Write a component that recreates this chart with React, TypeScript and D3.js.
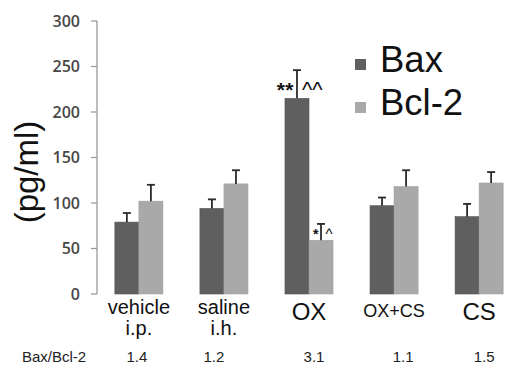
import React from 'react';
import * as d3 from 'd3';

// groups along the x axis
const groups = ['vehicle i.p.', 'saline i.h.', 'OX', 'OX+CS', 'CS'];
const groupLines = [['vehicle', 'i.p.'], ['saline', 'i.h.'], ['OX'], ['OX+CS'], ['CS']];
const groupFontSize = [20, 20, 24, 18, 24];
const series = ['Bax', 'Bcl-2'];
const colors = ['#5f5f5f', '#a9a9a9'];

// means and error-bar tops (pg/ml)
const baxValues = [79, 94, 215, 97, 85];
const baxErrTop = [89, 104, 246, 106, 99];
const bclValues = [102, 121, 59, 118, 122];
const bclErrTop = [120, 136, 77, 136, 134];

const yTicks = [0, 50, 100, 150, 200, 250, 300];
const ratios = ['1.4', '1.2', '3.1', '1.1', '1.5'];
const ratioShift = [-2, -10, 5, 9, 5];

export default function App() {
  const width = 507;
  const height = 378;

  const x = d3.scaleBand<string>()
    .domain(groups)
    .range([97, 521])
    .paddingInner(0.435)
    .paddingOuter(0.21);
  const xs = d3.scaleBand<string>().domain(series).range([0, x.bandwidth()]);
  const y = d3.scaleLinear().domain([0, 300]).range([294, 21]);

  const values = [baxValues, bclValues];
  const errs = [baxErrTop, bclErrTop];

  const font = '"Liberation Sans", Arial, sans-serif';

  return (
    <svg width={width} height={height} style={{ position: 'absolute', left: 0, top: 0, background: '#fff' }}>
      {/* y axis */}
      <line x1={97} x2={97} y1={y(300)} y2={y(0)} stroke="#9a9a9a" strokeWidth={1.3} />
      {yTicks.map(t => (
        <g key={t}>
          <line x1={91} x2={97} y1={y(t)} y2={y(t)} stroke="#9a9a9a" strokeWidth={1.3} />
          <text x={80} y={y(t)} dy="0.36em" textAnchor="end" fontFamily='"Open Sans", sans-serif'
            fontSize={16} fontWeight={600} fill="#474747">{t}</text>
        </g>
      ))}
      <text transform={`translate(38, 172) rotate(-90)`} textAnchor="middle" fontFamily={font}
        fontSize={33} fill="#111">(pg/ml)</text>

      {/* bars */}
      {series.map((s, si) => groups.map((g, gi) => {
        const bx = (x(g) as number) + (xs(s) as number);
        const bw = xs.bandwidth();
        const cx = bx + bw / 2;
        return (
          <g key={s + g}>
            <rect x={bx} y={y(values[si][gi])} width={bw} height={y(0) - y(values[si][gi])}
              fill={colors[si]} stroke={si === 0 ? '#555' : '#a0a0a0'} strokeWidth={0.6} />
            <line x1={cx} x2={cx} y1={y(values[si][gi])} y2={y(errs[si][gi])} stroke="#2a2a2a" strokeWidth={1.8} />
            <line x1={cx - 4} x2={cx + 4} y1={y(errs[si][gi])} y2={y(errs[si][gi])} stroke="#2a2a2a" strokeWidth={1.8} />
          </g>
        );
      }))}

      {/* significance marks */}
      {(() => {
        const ox = x('OX') as number;
        const baxC = ox + (xs('Bax') as number) + xs.bandwidth() / 2;
        const bclC = ox + (xs('Bcl-2') as number) + xs.bandwidth() / 2;
        return (
          <g fontFamily={font} fill="#111">
            <text x={baxC - 3} y={97} textAnchor="end" fontSize={21} fontWeight="bold" letterSpacing={0.5}>**</text>
            <text x={baxC + 5} y={97} textAnchor="start" fontSize={22}>^^</text>
            <text x={bclC - 2.5} y={239} textAnchor="end" fontSize={14} fontWeight="bold">*</text>
            <text x={bclC + 4.5} y={239} textAnchor="start" fontSize={15}>^</text>
          </g>
        );
      })()}

      {/* x labels */}
      {groups.map((g, gi) => {
        const cx = (x(g) as number) + x.bandwidth() / 2;
        const lines = groupLines[gi];
        const fs = groupFontSize[gi];
        const base = lines.length > 1 ? 314 : (fs > 20 ? 320 : 317);
        return (
          <text key={g} textAnchor="middle" fontFamily={font} fontSize={fs} fill="#111">
            {lines.map((l, li) => (
              <tspan key={l} x={cx} y={base + li * 21}>{l}</tspan>
            ))}
          </text>
        );
      })}

      {/* legend */}
      {series.map((s, si) => (
        <g key={s}>
          <rect x={355} y={59 + si * 43} width={11} height={11} fill={colors[si]} />
          <text x={380} y={72 + si * 43} fontFamily={font} fontSize={36.5} fill="#111">{s}</text>
        </g>
      ))}

      {/* ratio row */}
      <text x={22} y={362} fontFamily={font} fontSize={15} fill="#222">Bax/Bcl-2</text>
      {ratios.map((r, i) => (
        <text key={i} x={(x(groups[i]) as number) + x.bandwidth() / 2 + ratioShift[i]} y={362}
          textAnchor="middle" fontFamily={font} fontSize={15} fill="#222">{r}</text>
      ))}
    </svg>
  );
}
